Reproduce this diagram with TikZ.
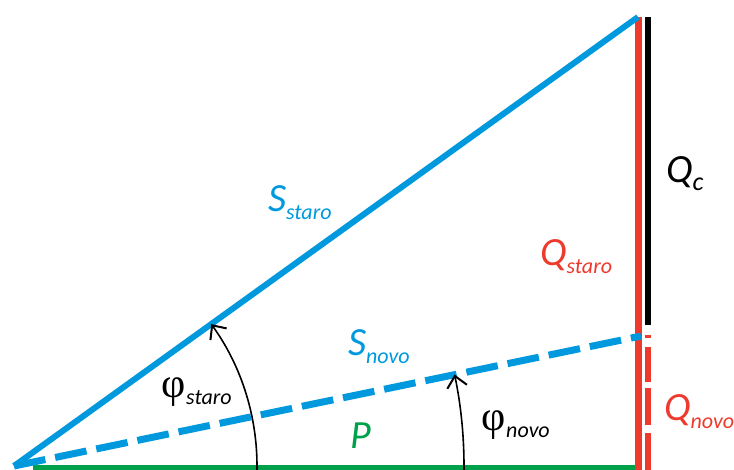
\documentclass[tikz,border=0pt]{standalone}
\usepackage{fontspec}
\setmainfont{Carlito}
\newfontfamily\phifont{Liberation Serif}
\usetikzlibrary{arrows.meta}
\definecolor{cblue}{RGB}{0,153,221}
\definecolor{cred}{RGB}{238,58,44}
\definecolor{cgreen}{RGB}{0,161,75}
\newcommand{\qlab}[3][22]{{\fontsize{40}{40}\selectfont\itshape #2}\raisebox{-8pt}{\fontsize{#1}{#1}\selectfont\itshape #3}}
\newcommand{\philab}[1]{{\phifont\fontsize{42}{42}\selectfont φ}\kern1pt\raisebox{-7pt}{\fontsize{22}{22}\selectfont\itshape #1}}
\begin{document}
\begin{tikzpicture}[x=1pt,y=-1pt,
  bluesolid/.style={draw=cblue,line width=6pt},
  bluedash/.style={draw=cblue,line width=7pt,dash pattern=on 32pt off 10pt},
  redline/.style={draw=cred,line width=7pt},
  blackline/.style={draw=black,line width=6pt},
  greenline/.style={draw=cgreen,line width=5pt},
  angarrow/.style={draw=black,line width=1.6pt,-{Straight Barb[length=11pt,width=20pt,line width=2pt]}},
  lbl/.style={anchor=base west,inner sep=0pt,outer sep=0pt}]
\useasboundingbox (0,0) rectangle (734,469);
\coordinate (O) at (14,466);
\coordinate (T) at (638,17);
\coordinate (N) at (641,336);
\coordinate (G1) at (33,467);
\coordinate (G2) at (636,467);
\coordinate (R1) at (638,17);
\coordinate (R2) at (638,473);
\coordinate (K1) at (647.5,17);
\coordinate (K2) at (647.5,325);
\coordinate (D1) at (648,335);
\coordinate (D2) at (648,473);
\draw[greenline] (G1) -- (G2);
\draw[redline] (R1) -- (R2);
\draw[blackline] (K1) -- (K2);
\draw[cred,line width=6pt,dash pattern=on 3pt off 9pt on 35pt off 6pt on 37pt off 8pt on 50pt] (D1) -- (D2);
\draw[bluesolid] (O) -- (T);
\draw[bluedash] (O) -- (N);
\draw[angarrow] ([shift={(2:243)}]O) arc[start angle=2, end angle=-35.73, radius=243];
\draw[angarrow] ([shift={(1:450)}]O) arc[start angle=1, end angle=-11.73, radius=450];
\node[lbl,text=cblue] (sst) at (268,211) {\qlab{S}{staro}};
\node[lbl,text=cblue] (sno) at (348,355) {\qlab{S}{novo}};
\node[lbl,text=cgreen] (p) at (350,448) {\fontsize{40}{40}\selectfont\itshape P};
\node[lbl,text=cred] (qst) at (540,265) {\qlab{Q}{staro}};
\node[lbl,text=cred] (qno) at (664,420) {\qlab{Q}{novo}};
\node[lbl,text=black] (qc) at (666,182) {\qlab[26]{Q}{c}};
\node[lbl,text=black] (fst) at (161,397) {\philab{staro}};
\node[lbl,text=black] (fno) at (481,430) {\philab{novo}};
\end{tikzpicture}
\end{document}
